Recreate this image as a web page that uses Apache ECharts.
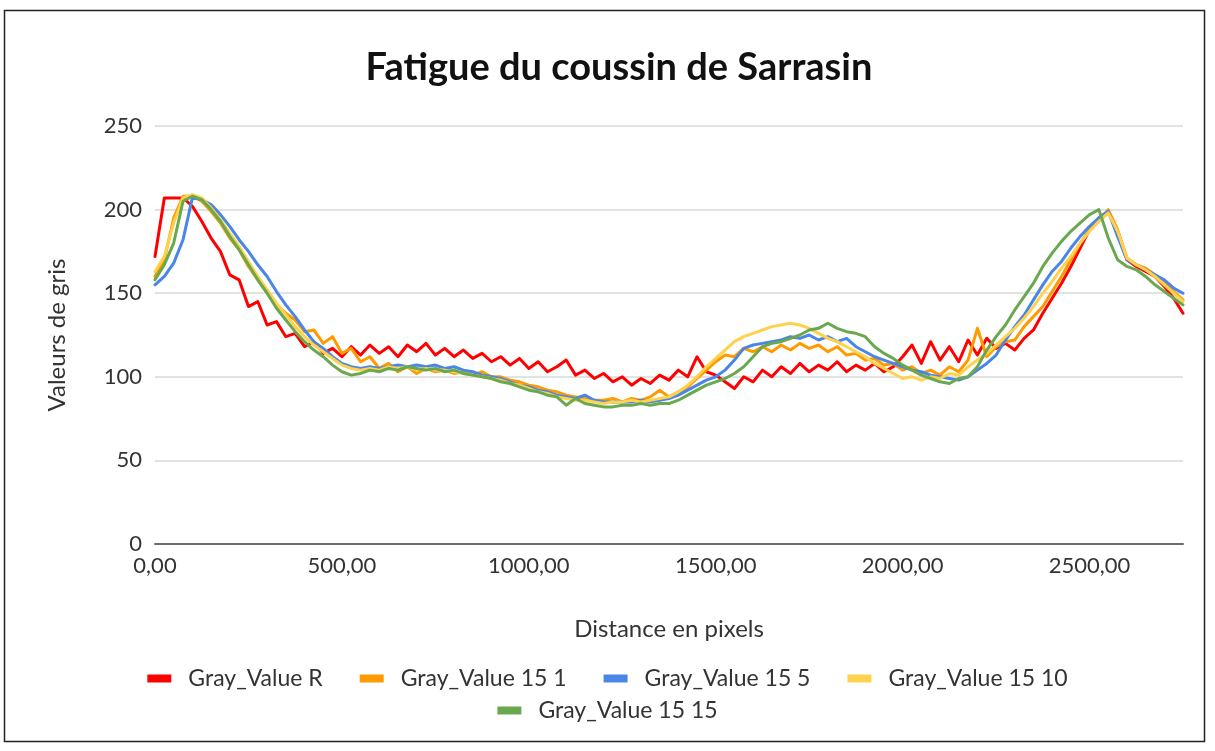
<!DOCTYPE html>
<html>
<head>
<meta charset="utf-8">
<script src="https://cdn.jsdelivr.net/npm/echarts@6/dist/echarts.min.js"></script>
<style>
  html, body { margin: 0; padding: 0; background: #fff; }
  #chart { width: 1215px; height: 751px; }
</style>
</head>
<body>
<div id="chart"></div>
<script>
// Sample positions along the profile (pixels)
const distance = [
  0, 25, 50, 75, 100, 125, 150, 175, 200, 225, 250, 275, 300, 325, 350, 375, 400, 425, 450, 475,
  500, 525, 550, 575, 600, 625, 650, 675, 700, 725, 750, 775, 800, 825, 850, 875, 900, 925, 950, 975,
  1000, 1025, 1050, 1075, 1100, 1125, 1150, 1175, 1200, 1225, 1250, 1275, 1300, 1325, 1350, 1375, 1400, 1425, 1450, 1475,
  1500, 1525, 1550, 1575, 1600, 1625, 1650, 1675, 1700, 1725, 1750, 1775, 1800, 1825, 1850, 1875, 1900, 1925, 1950, 1975,
  2000, 2025, 2050, 2075, 2100, 2125, 2150, 2175, 2200, 2225, 2250, 2275, 2300, 2325, 2350, 2375, 2400, 2425, 2450, 2475,
  2500, 2525, 2550, 2575, 2600, 2625, 2650, 2675, 2700, 2725, 2750
];

// Gray values of each profile
const grayR = [
  172, 207, 207, 207, 202, 193, 183, 175, 161, 158, 142, 145, 131, 133, 124, 126, 118, 121, 114, 117,
  112, 118, 113, 119, 114, 118, 112, 119, 115, 120, 113, 117, 112, 116, 111, 114, 109, 112, 107, 111,
  105, 109, 103, 106, 110, 101, 104, 99, 102, 97, 100, 95, 99, 96, 101, 98, 104, 100, 112, 103,
  101, 97, 93, 100, 97, 104, 100, 106, 102, 108, 103, 107, 104, 109, 103, 107, 104, 108, 103, 106,
  112, 119, 108, 121, 110, 118, 109, 122, 113, 123, 117, 120, 116, 123, 128, 138, 147, 156, 166, 177,
  188, 195, 199, 186, 170, 166, 163, 160, 154, 147, 138
];
const gray15_1 = [
  160, 170, 195, 208, 208, 205, 199, 192, 183, 176, 166, 158, 150, 143, 138, 134, 127, 128, 120, 124,
  114, 117, 109, 112, 105, 108, 103, 106, 102, 105, 103, 104, 102, 103, 101, 103, 100, 100, 98, 97,
  95, 94, 92, 91, 89, 88, 87, 86, 86, 87, 85, 87, 86, 88, 92, 88, 91, 94, 99, 104,
  109, 113, 112, 117, 115, 118, 115, 119, 116, 120, 117, 119, 115, 118, 113, 114, 110, 111, 107, 108,
  104, 106, 102, 104, 101, 106, 103, 110, 129, 112, 118, 121, 122, 130, 136, 142, 151, 160, 170, 180,
  188, 193, 200, 188, 171, 167, 165, 161, 156, 151, 146
];
const gray15_5 = [
  155, 160, 168, 182, 207, 206, 203, 197, 190, 182, 175, 167, 160, 151, 143, 136, 128, 121, 117, 112,
  108, 106, 105, 106, 105, 106, 107, 106, 107, 106, 107, 105, 106, 104, 103, 101, 100, 99, 97, 95,
  94, 92, 91, 89, 88, 87, 89, 86, 85, 85, 85, 85, 86, 85, 86, 87, 89, 92, 95, 98,
  100, 104, 110, 117, 119, 120, 121, 122, 124, 123, 125, 122, 124, 121, 123, 118, 115, 112, 110, 108,
  106, 104, 103, 101, 100, 99, 98, 100, 104, 108, 113, 122, 130, 137, 146, 155, 163, 169, 177, 184,
  190, 195, 199, 184, 170, 167, 164, 161, 158, 153, 150
];
const gray15_10 = [
  163, 172, 192, 207, 209, 207, 201, 194, 186, 178, 169, 160, 152, 144, 137, 130, 124, 119, 115, 111,
  107, 105, 104, 105, 104, 106, 105, 106, 104, 105, 104, 104, 103, 102, 101, 100, 99, 98, 96, 95,
  93, 91, 90, 88, 87, 86, 86, 85, 84, 85, 85, 86, 85, 86, 87, 88, 91, 95, 100, 106,
  111, 116, 121, 124, 126, 128, 130, 131, 132, 131, 129, 126, 123, 121, 118, 115, 112, 108, 105, 102,
  99, 100, 98, 100, 99, 102, 101, 106, 110, 114, 119, 124, 129, 135, 142, 150, 157, 165, 172, 180,
  187, 193, 198, 187, 171, 167, 164, 160, 155, 150, 145
];
const gray15_15 = [
  158, 167, 180, 205, 208, 206, 200, 193, 184, 176, 167, 158, 150, 141, 134, 127, 121, 116, 112, 107,
  103, 101, 102, 104, 103, 105, 104, 106, 105, 104, 105, 103, 104, 102, 101, 100, 99, 97, 96, 94,
  92, 91, 89, 88, 83, 87, 84, 83, 82, 82, 83, 83, 84, 83, 84, 84, 86, 89, 92, 95,
  97, 99, 102, 106, 112, 118, 120, 121, 123, 125, 128, 129, 132, 129, 127, 126, 124, 118, 114, 111,
  107, 104, 101, 99, 97, 96, 99, 100, 106, 116, 124, 131, 140, 148, 156, 166, 174, 181, 187, 192,
  197, 200, 183, 170, 166, 164, 160, 155, 151, 147, 143
];

const seriesNames = ['Gray_Value R', 'Gray_Value 15 1', 'Gray_Value 15 5', 'Gray_Value 15 10', 'Gray_Value 15 15'];
const seriesValues = [grayR, gray15_1, gray15_5, gray15_10, gray15_15];
const seriesColors = ['#ff0000', '#ff9a00', '#4a86e8', '#ffd24d', '#6aa84f'];

const FONT = 'Lato, "Open Sans", sans-serif';

const chart = echarts.init(document.getElementById('chart'), null, { renderer: 'canvas' });

const series = seriesNames.map((name, k) => ({
  name: name,
  type: 'line',
  data: distance.map((d, i) => [d, seriesValues[k][i]]),
  showSymbol: false,
  symbol: 'none',
  smooth: false,
  lineStyle: { width: 3, color: seriesColors[k], join: 'round', cap: 'round' },
  itemStyle: { color: seriesColors[k] },
  emphasis: { disabled: true },
  z: 2 + k
}));

const legendText = { fontFamily: FONT, fontSize: 23, color: '#333333', padding: [0, 0, 0, 12] };

chart.setOption({
  animation: false,
  backgroundColor: '#ffffff',
  title: {
    text: 'Fatigue du coussin de Sarrasin',
    left: 614,
    textAlign: 'center',
    top: 44,
    textStyle: { fontFamily: FONT, fontSize: 38, fontWeight: 'bold', color: '#111111' }
  },
  graphic: [{
    type: 'rect',
    shape: { x: 4.5, y: 10.5, width: 1200, height: 731 },
    style: { fill: 'none', stroke: '#222222', lineWidth: 1.5 },
    silent: true,
    z: 0
  }],
  legend: [
    {
      data: seriesNames.slice(0, 4),
      left: 'center',
      top: 662,
      icon: 'rect',
      itemWidth: 24,
      itemHeight: 8,
      itemGap: 37,
      textStyle: legendText
    },
    {
      data: seriesNames.slice(4),
      left: 'center',
      top: 694,
      icon: 'rect',
      itemWidth: 24,
      itemHeight: 8,
      textStyle: legendText
    }
  ],
  grid: { left: 155, right: 32, top: 126, bottom: 207, containLabel: false },
  xAxis: {
    type: 'value',
    min: 0,
    max: 2750,
    interval: 500,
    name: 'Distance en pixels',
    nameLocation: 'middle',
    nameGap: 73,
    nameTextStyle: { fontFamily: FONT, fontSize: 24, color: '#333333' },
    axisLine: { show: true, lineStyle: { color: '#6b6b6b', width: 2 } },
    axisTick: { show: false },
    splitLine: { show: false },
    axisLabel: {
      fontFamily: FONT, fontSize: 22, color: '#333333', margin: 11,
      showMaxLabel: false,
      formatter: v => v.toFixed(2).replace('.', ',')
    }
  },
  yAxis: {
    type: 'value',
    min: 0,
    max: 250,
    interval: 50,
    name: 'Valeurs de gris',
    nameLocation: 'middle',
    nameGap: 86,
    nameRotate: 90,
    nameTextStyle: { fontFamily: FONT, fontSize: 24, color: '#333333' },
    axisLine: { show: false },
    axisTick: { show: false },
    splitLine: { show: true, lineStyle: { color: '#d9d9d9', width: 1.5 } },
    axisLabel: { fontFamily: FONT, fontSize: 22, color: '#333333', margin: 13 }
  },
  series: series
});
</script>
</body>
</html>
